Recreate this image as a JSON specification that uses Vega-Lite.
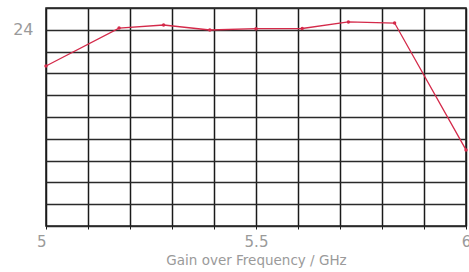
{
  "$schema": "https://vega.github.io/schema/vega-lite/v6.json",
  "width": 420,
  "height": 218,
  "autosize": {"type": "none"},
  "padding": {"left": 46, "top": 8, "right": 3, "bottom": 46},
  "background": "white",
  "config": {
    "view": {"stroke": "#1a1a1a", "strokeWidth": 1.5},
    "font": "DejaVu Sans"
  },
  "data": {
    "values": [
      {"f": 5.0, "gain": 22.34},
      {"f": 5.174, "gain": 24.08},
      {"f": 5.28, "gain": 24.22},
      {"f": 5.39, "gain": 23.99},
      {"f": 5.5, "gain": 24.05},
      {"f": 5.61, "gain": 24.06},
      {"f": 5.72, "gain": 24.36},
      {"f": 5.83, "gain": 24.31},
      {"f": 6.0, "gain": 18.49}
    ]
  },
  "mark": {"type": "line", "color": "#d42a4a", "strokeWidth": 1.3, "point": {"filled": true, "size": 12, "color": "#d42a4a"}},
  "encoding": {
    "x": {
      "field": "f",
      "type": "quantitative",
      "scale": {"domain": [5, 6], "nice": false, "zero": false},
      "axis": {
        "values": [5, 5.1, 5.2, 5.3, 5.4, 5.5, 5.6, 5.7, 5.8, 5.9, 6],
        "format": "~g",
        "labelExpr": "datum.value == 5 || datum.value == 5.5 || datum.value == 6 ? datum.label : ''",
        "labelAlign": {"expr": "datum.value == 5 ? 'right' : 'center'"},
        "labelFontSize": 15,
        "labelColor": "#9a9a9a",
        "labelPadding": 5,
        "tickSize": 3,
        "tickColor": "#1a1a1a",
        "domain": false,
        "grid": true,
        "gridColor": "#1a1a1a",
        "gridOpacity": 1,
        "gridWidth": 1.5,
        "title": "Gain over Frequency / GHz",
        "titleFontSize": 13.5,
        "titleFontWeight": "normal",
        "titleColor": "#9a9a9a",
        "titlePadding": 4
      }
    },
    "y": {
      "field": "gain",
      "type": "quantitative",
      "scale": {"domain": [15, 25], "nice": false, "zero": false},
      "axis": {
        "values": [15, 16, 17, 18, 19, 20, 21, 22, 23, 24, 25],
        "labelExpr": "datum.value == 24 ? datum.label : ''",
        "labelFontSize": 16,
        "labelColor": "#9a9a9a",
        "labelPadding": 13,
        "ticks": false,
        "domain": false,
        "grid": true,
        "gridColor": "#2a2a2a",
        "gridOpacity": 1,
        "gridWidth": 1.3,
        "title": null
      }
    }
  }
}
